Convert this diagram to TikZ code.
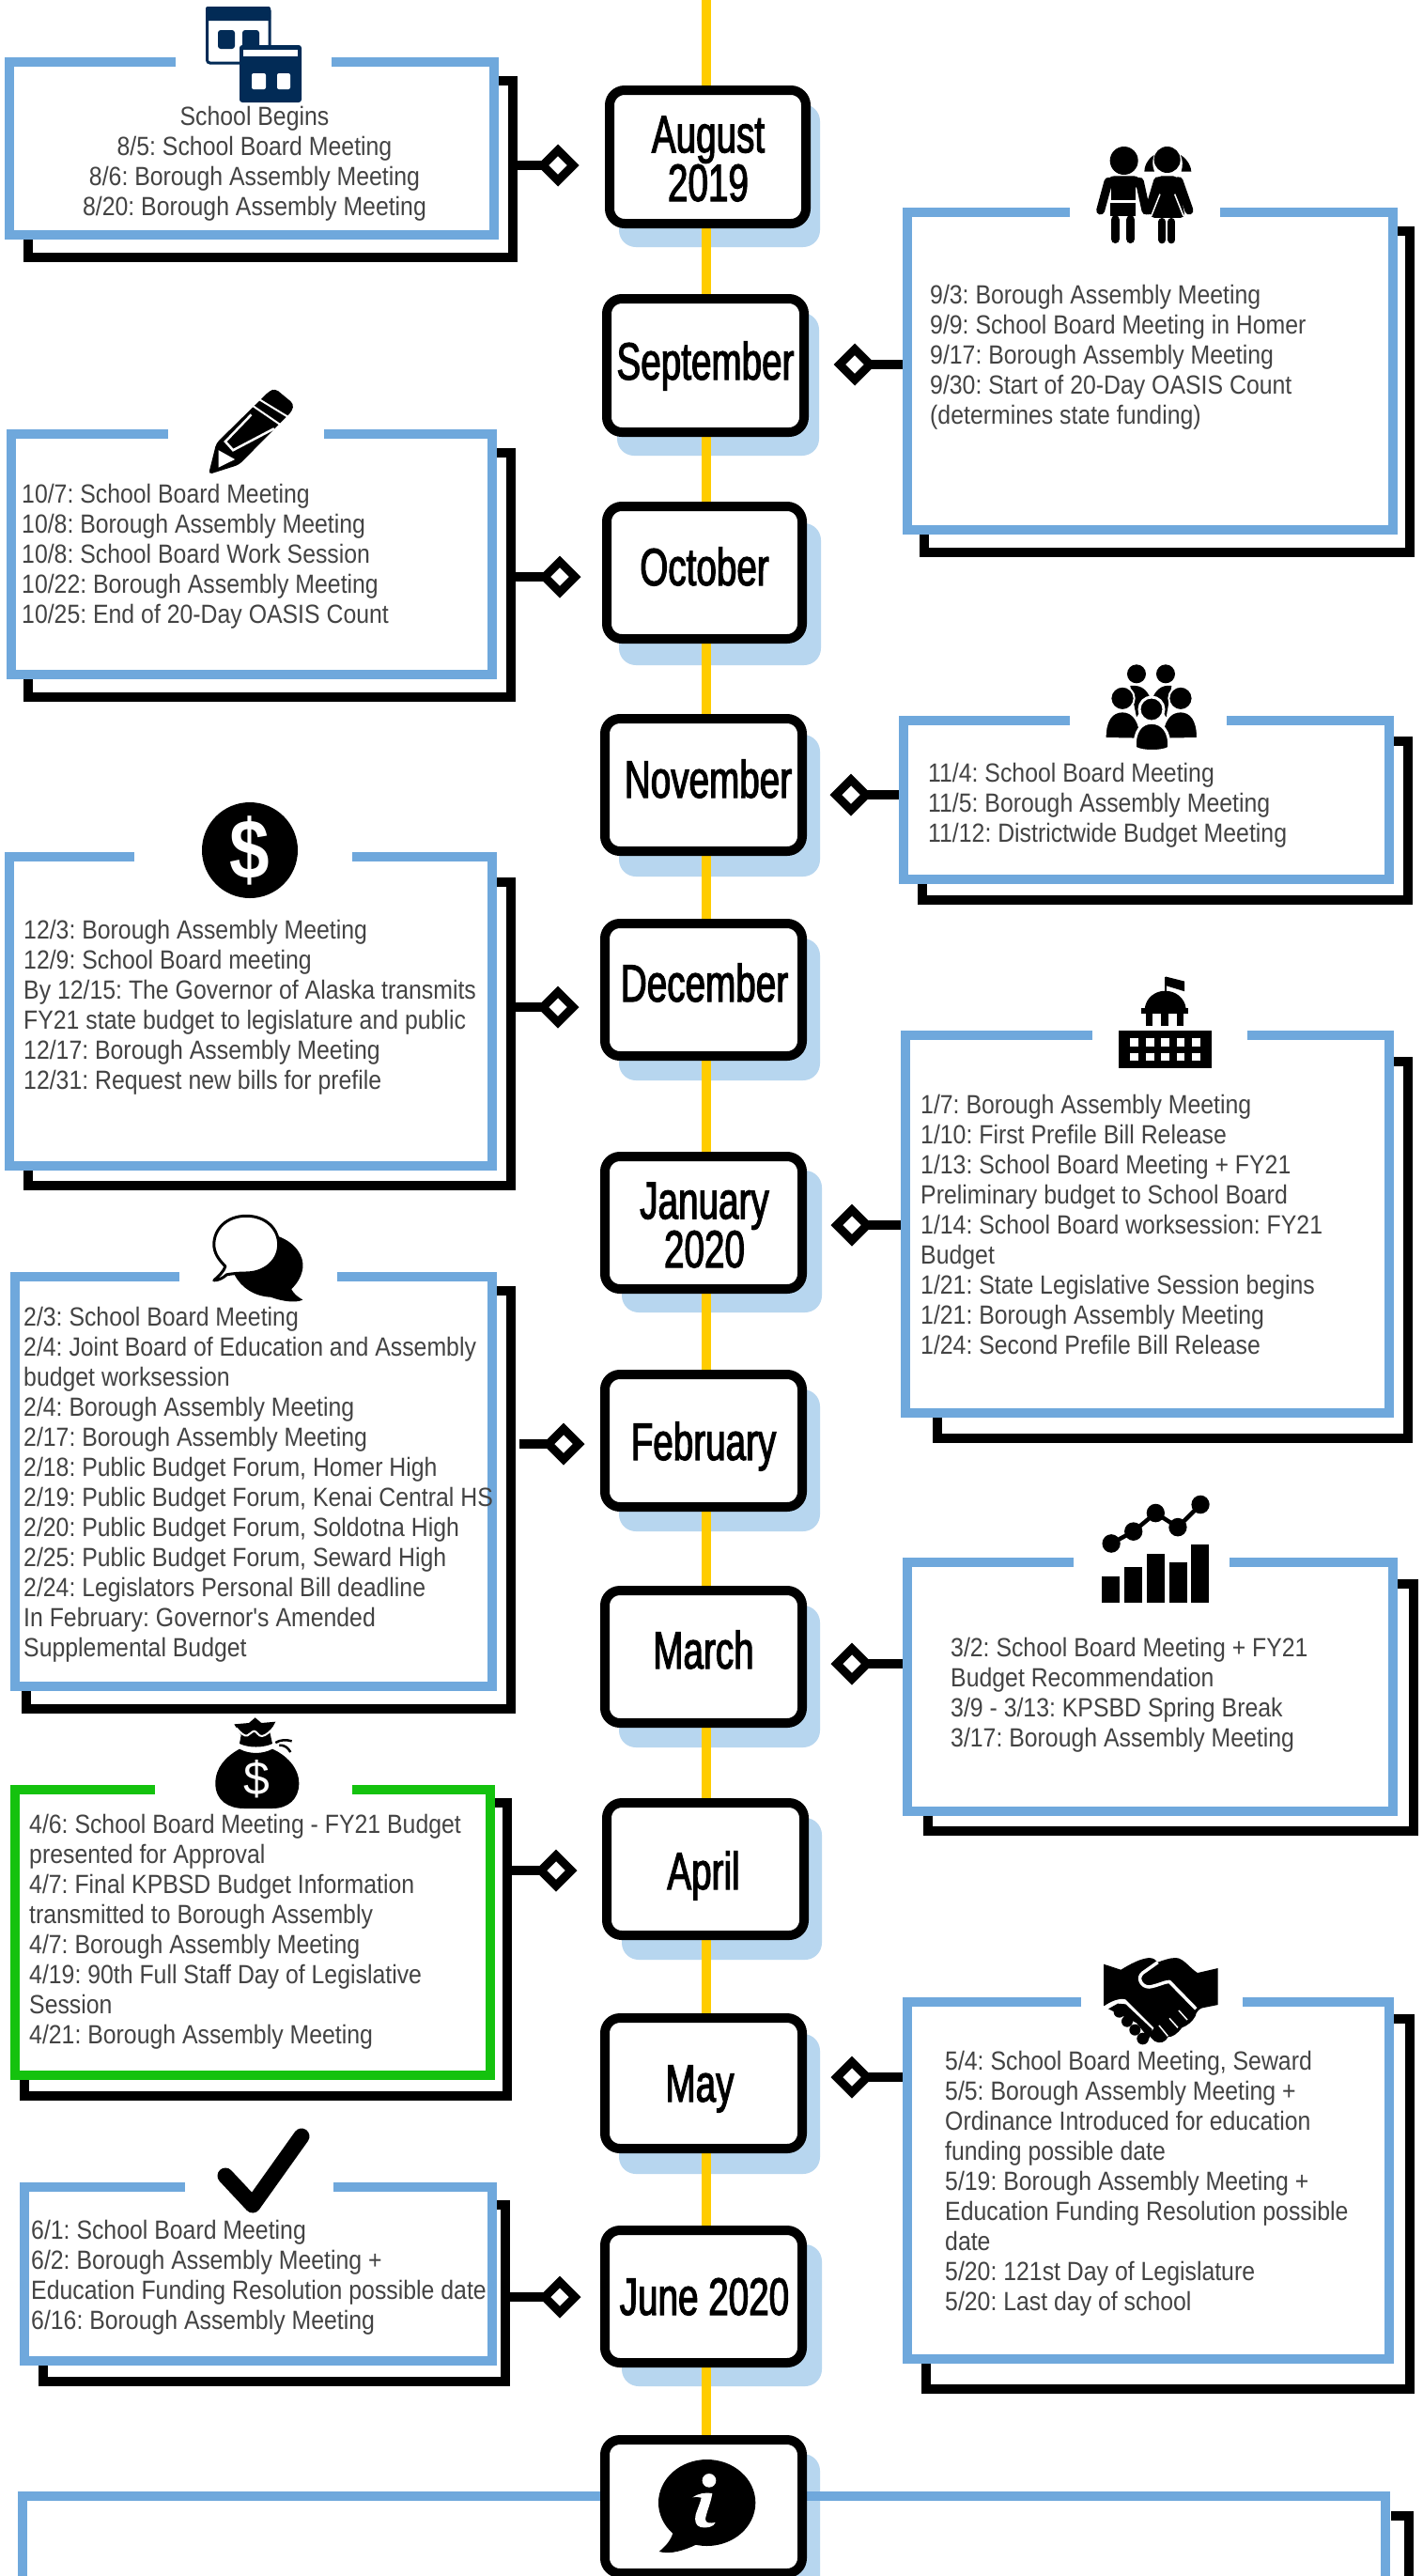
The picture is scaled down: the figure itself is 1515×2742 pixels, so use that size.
\documentclass[tikz,border=0pt]{standalone}
\usepackage{fontspec}
\usetikzlibrary{shapes.geometric,calc}
\newfontfamily\bodyfont{Liberation Sans}[FakeStretch=0.887]
\newfontfamily\plainfont{Liberation Sans}
\newfontfamily\monthfont{Liberation Sans}[FakeStretch=0.69,FakeBold=2]
\newfontfamily\dollarfont{Liberation Sans}[FakeStretch=0.85,UprightFont=* Bold]
\definecolor{panelblue}{HTML}{6FA8DC}
\definecolor{panelgreen}{HTML}{14C20E}
\definecolor{shadowblue}{HTML}{B7D6EF}
\definecolor{tlyellow}{HTML}{FFCC00}
\definecolor{navy}{HTML}{022B56}
\definecolor{bodygray}{HTML}{434343}
\pgfdeclarelayer{paper}
\pgfdeclarelayer{bg}
\pgfdeclarelayer{mid}
\pgfsetlayers{paper,bg,mid,main}
\tikzset{
  monthnode/.style={draw=black,fill=white,line width=10pt,rounded corners=16pt,inner sep=0pt,rectangle},
  monthshade/.style={fill=shadowblue,rounded corners=18pt,inner sep=0pt,outer sep=0pt,rectangle},
  panelfill/.style={fill=white,inner sep=0pt,outer sep=0pt,rectangle},
  panelopen/.style={inner sep=0pt,outer sep=0pt,rectangle},
  panelline/.style={line width=10pt,line cap=butt,line join=miter},
  blackframe/.style={draw=black,line width=10pt,inner sep=0pt,rectangle,line join=miter},
  conn/.style={draw=black,line width=10pt},
  dia/.style={diamond,draw=black,fill=white,line width=9pt,inner sep=0pt,minimum width=36pt,minimum height=36pt,line join=miter},
  timeline/.style={draw=tlyellow,line width=10pt},
  paneltext/.style={align=left,anchor=base west,inner sep=0pt,text=bodygray,font=\frenchspacing\bodyfont\fontsize{28}{32}\selectfont},
  monthtext/.style={align=center,anchor=base,inner sep=0pt,text=black,font=\monthfont\fontsize{56}{50}\selectfont},
}
\newcommand\monthbox[8]{%
  \begin{pgfonlayer}{bg}
    \node[monthshade,minimum width={(#7-#6)*1pt},minimum height={(#5-#3)*1pt}] (#1s) at ({(#6+#7)/2},{(#3+#5)/2+(#8-#5)}) {};
  \end{pgfonlayer}
  \node[monthnode,minimum width={(#4-#2-10)*1pt},minimum height={(#5-#3-10)*1pt}] (#1) at ({(#2+#4)/2},{(#3+#5)/2}) {};
}
\newcommand\shadowframe[5]{%
  \node[blackframe,minimum width={(#4-#2-10)*1pt},minimum height={(#5-#3-10)*1pt}] (#1) at ({(#2+#4)/2},{(#3+#5)/2}) {};
}
\newcommand\panelframe[8]{%
  \node[panelfill,minimum width={(#4-#2)*1pt},minimum height={(#5-#3)*1pt}] (#1) at ({(#2+#4)/2},{(#3+#5)/2}) {};
  \draw[panelline,draw=#8] (#7,{#3+5}) -- ({#4-5},{#3+5}) -- ({#4-5},{#5-5}) -- ({#2+5},{#5-5}) -- ({#2+5},{#3+5}) -- (#6,{#3+5});
}
\newcommand\conL[2]{\begin{pgfonlayer}{mid}\draw[conn] (#1.center) -- (#1.center -| #2.east);\end{pgfonlayer}}
\newcommand\conR[2]{\begin{pgfonlayer}{mid}\draw[conn] (#1.center) -- (#1.center -| #2.west);\end{pgfonlayer}}
\begin{document}
\begin{tikzpicture}[x=1pt,y=-1pt]
\useasboundingbox (0,0) rectangle (1515,2742);
\begin{pgfonlayer}{paper}\fill[white] (0,0) rectangle (1515,2742);\end{pgfonlayer}

% month boxes: name l t r b shadowl shadowr shadowb
\monthbox{aug}{644}{91}{863}{243}{659}{873}{263}
\monthbox{sep}{641}{313}{861}{465}{657}{872}{485}
\monthbox{oct}{641}{534}{859}{685}{659}{874}{708}
\monthbox{nov}{639}{760}{859}{911}{659}{873}{933}
\monthbox{dec}{639}{978}{859}{1129}{659}{873}{1150}
\monthbox{jan}{639}{1226}{859}{1377}{662}{875}{1397}
\monthbox{feb}{639}{1458}{859}{1609}{659}{873}{1630}
\monthbox{mar}{639}{1688}{859}{1839}{659}{873}{1860}
\monthbox{apr}{641}{1914}{861}{2065}{662}{875}{2086}
\monthbox{may}{639}{2143}{859}{2292}{659}{873}{2314}
\monthbox{jun}{639}{2369}{859}{2520}{662}{875}{2540}

% timeline
\coordinate (tltop) at (752,0);

% month labels
\node[monthtext] (augL) at (754,214) {August\\2019};
\node[monthtext] (sepL) at (751,404) {September};
\node[monthtext] (octL) at (750,623) {October};
\node[monthtext] (novL) at (754,849) {November};
\node[monthtext] (decL) at (750,1066) {December};
\node[monthtext] (janL) at (750,1349) {January\\2020};
\node[monthtext] (febL) at (749,1554) {February};
\node[monthtext] (marL) at (749,1776) {March};
\node[monthtext] (aprL) at (749,2011) {April};
\node[monthtext] (mayL) at (745,2237) {May};
\node[monthtext] (junL) at (750,2464) {June 2020};

% August panel
\shadowframe{augS}{25}{81}{551}{279}
\panelframe{augP}{5}{61}{531}{255}{187}{353}{panelblue}
\node[paneltext,align=center,anchor=base] (augT) at (271,229) {School Begins\\8/5: School Board Meeting\\8/6: Borough Assembly Meeting\\8/20: Borough Assembly Meeting};
\node[dia] (augD) at (594,176) {};
\conL{augD}{augS}

% September panel
\shadowframe{sepS}{979}{241}{1506}{593}
\panelframe{sepP}{961}{221}{1488}{569}{1139}{1299}{panelblue}
\node[paneltext] (sepT) at (990,451) {9/3: Borough Assembly Meeting\\9/9: School Board Meeting in Homer\\9/17: Borough Assembly Meeting\\9/30: Start of 20-Day OASIS Count\\(determines state funding)};
\node[dia] (sepD) at (910,388) {};
\conR{sepD}{sepP}

% October panel
\shadowframe{octS}{25}{477}{549}{747}
\panelframe{octP}{7}{457}{529}{723}{179}{345}{panelblue}
\node[paneltext] (octT) at (23,663) {10/7: School Board Meeting\\10/8: Borough Assembly Meeting\\10/8: School Board Work Session\\10/22: Borough Assembly Meeting\\10/25: End of 20-Day OASIS Count};
\node[dia] (octD) at (596,614) {};
\conL{octD}{octS}

% November panel
\shadowframe{novS}{977}{784}{1504}{963}
\panelframe{novP}{957}{762}{1484}{941}{1139}{1306}{panelblue}
\node[paneltext] (novT) at (988,896) {11/4: School Board Meeting\\11/5: Borough Assembly Meeting\\11/12: Districtwide Budget Meeting};
\node[dia] (novD) at (906,846) {};
\conR{novD}{novP}

% December panel
\shadowframe{decS}{25}{934}{549}{1267}
\panelframe{decP}{5}{907}{529}{1246}{143}{375}{panelblue}
\node[paneltext] (decT) at (25,1159) {12/3: Borough Assembly Meeting\\12/9: School Board meeting\\By 12/15: The Governor of Alaska transmits\\FY21 state budget to legislature and public\\12/17: Borough Assembly Meeting\\12/31: Request new bills for prefile};
\node[dia] (decD) at (594,1072) {};
\conL{decD}{decS}

% January panel
\shadowframe{janS}{993}{1125}{1504}{1536}
\panelframe{janP}{959}{1097}{1484}{1509}{1163}{1328}{panelblue}
\node[paneltext] (janT) at (980,1441) {1/7: Borough Assembly Meeting\\1/10: First Prefile Bill Release\\1/13: School Board Meeting + FY21\\Preliminary budget to School Board\\1/14: School Board worksession: FY21\\Budget\\1/21: State Legislative Session begins\\1/21: Borough Assembly Meeting\\1/24: Second Prefile Bill Release};
\node[dia] (janD) at (907,1304) {};
\conR{janD}{janP}

% February panel
\shadowframe{febS}{23}{1369}{549}{1824}
\panelframe{febP}{11}{1354}{529}{1800}{191}{359}{panelblue}
\node[paneltext] (febT) at (25,1763) {2/3: School Board Meeting\\2/4: Joint Board of Education and Assembly\\budget worksession\\2/4: Borough Assembly Meeting\\2/17: Borough Assembly Meeting\\2/18: Public Budget Forum, Homer High\\2/19: Public Budget Forum, Kenai Central HS\\2/20: Public Budget Forum, Soldotna High\\2/25: Public Budget Forum, Seward High\\2/24: Legislators Personal Bill deadline\\In February: Governor's Amended\\Supplemental Budget};
\node[dia] (febD) at (600,1537) {};
\begin{pgfonlayer}{mid}\draw[conn] (febD.center) -- ([xshift=4pt]febD.center -| febS.east);\end{pgfonlayer}

% March panel
\shadowframe{marS}{983}{1681}{1510}{1954}
\panelframe{marP}{961}{1658}{1488}{1933}{1143}{1309}{panelblue}
\node[paneltext] (marT) at (1012,1859) {3/2: School Board Meeting + FY21\\Budget Recommendation\\3/9 - 3/13: KPSBD Spring Break\\3/17: Borough Assembly Meeting};
\node[dia] (marD) at (907,1771) {};
\conR{marD}{marP}

% April panel
\shadowframe{aprS}{21}{1914}{545}{2236}
\panelframe{aprP}{11}{1900}{527}{2214}{165}{375}{panelgreen}
\node[paneltext] (aprT) at (31,2175) {4/6: School Board Meeting - FY21 Budget\\presented for Approval\\4/7: Final KPBSD Budget Information\\transmitted to Borough Assembly\\4/7: Borough Assembly Meeting\\4/19: 90th Full Staff Day of Legislative\\Session\\4/21: Borough Assembly Meeting};
\node[dia] (aprD) at (592,1991) {};
\conL{aprD}{aprS}

% May panel
\shadowframe{mayS}{981}{2144}{1506}{2548}
\panelframe{mayP}{961}{2126}{1484}{2516}{1151}{1323}{panelblue}
\node[paneltext] (mayT) at (1006,2459) {5/4: School Board Meeting, Seward\\5/5: Borough Assembly Meeting +\\Ordinance Introduced for education\\funding possible date\\5/19: Borough Assembly Meeting +\\Education Funding Resolution possible\\date\\5/20: 121st Day of Legislature\\5/20: Last day of school};
\node[dia] (mayD) at (907,2211) {};
\conR{mayD}{mayP}

% June panel
\shadowframe{junS}{41}{2342}{543}{2540}
\panelframe{junP}{21}{2323}{529}{2518}{197}{355}{panelblue}
\node[paneltext] (junT) at (33,2479) {6/1: School Board Meeting\\6/2: Borough Assembly Meeting +\\Education Funding Resolution possible date\\6/16: Borough Assembly Meeting};
\node[dia] (junD) at (596,2445) {};
\conL{junD}{junS}

% Info panel (runs past the bottom of the page)
\coordinate (infoSa) at (1481,2678);
\coordinate (infoSb) at (1500,2678);
\coordinate (infoSc) at (1500,2760);
\draw[panelline,draw=black] (infoSa) -- (infoSb) -- (infoSc);
\node[panelopen,minimum width=1461pt,minimum height=148pt] (infoP) at (749.5,2726) {};
\draw[panelline,draw=panelblue] (24,2780) -- (24,2657) -- (1475,2657) -- (1475,2780);
\monthbox{info}{639}{2592}{859}{2744}{662}{873}{2764}
\begin{pgfonlayer}{mid}\draw[timeline] (tltop) -- (tltop |- info.north);\end{pgfonlayer}

% --- icons ---
% calendars
\draw[navy,line width=3pt,rounded corners=3pt,fill=white] (220.5,8.5) rectangle (287,67);
\fill[navy,rounded corners=2pt] (219,7) rectangle (288,22);
\fill[navy,rounded corners=3pt] (232,32) rectangle (250,52);
\fill[navy,rounded corners=3pt] (258,32) rectangle (276,52);
\fill[navy,rounded corners=3pt] (255,48) rectangle (321,109);
\fill[white] (259,52.5) rectangle (317,60);
\fill[white,rounded corners=2pt] (268,78) rectangle (283,95);
\fill[white,rounded corners=2pt] (295,78) rectangle (309,95);

% children
\begin{scope}[shift={(1160,150)},x=.3333pt,y=-.3333pt]
  \fill (110,63) circle[radius=45];
  \fill[rounded corners=8pt] (55,112) rectangle (165,150);
  \fill (68,130) rectangle (148,190);
  \fill (66,198) rectangle (148,240);
  \draw[line width=9pt,line cap=round] (60,130) -- (35,222);
  \draw[line width=9pt,line cap=round] (160,130) -- (180,222);
  \draw[line width=9.5pt,line cap=round] (82,252) -- (82,313);
  \draw[line width=9.5pt,line cap=round] (131,252) -- (131,313);
  \fill (206,45) .. controls (182,60) and (175,85) .. (175,98) -- (207,98) .. controls (200,80) and (200,62) .. (206,45) -- cycle;
  \fill (291,45) .. controls (315,60) and (325,85) .. (325,98) -- (293,98) .. controls (298,80) and (298,62) .. (291,45) -- cycle;
  \fill (248,60) circle[radius=42];
  \draw[line width=9pt,line cap=round] (218,128) -- (190,222);
  \draw[line width=9pt,line cap=round] (285,128) -- (318,222);
  \fill[rounded corners=5pt] (215,112) -- (282,112) -- (305,246) -- (193,246) -- cycle;
  \draw[white,line width=1.5pt] (225,170) -- (197,240);
  \draw[white,line width=1.5pt] (272,170) -- (300,240);
  \draw[line width=8pt,line cap=round] (232,258) -- (232,316);
  \draw[line width=8pt,line cap=round] (262,258) -- (262,316);
\end{scope}

% pencil
\begin{scope}[shift={(0,400)},x=.4847pt,y=-.574pt]
  \fill[rounded corners=4pt] (458,183) -- (475,125) -- (592,28) -- (605,24) -- (645,52) -- (642,65) -- (525,165) -- cycle;
  \draw[white,line width=2pt] (566,42) -- (632,76);
  \draw[white,line width=2pt] (554,55) -- (618,92);
  \draw[white,line width=2.5pt] (552,72) -- (495,122) -- (512,138) -- (602,98);
  \fill[white] (480,138) -- (516,155) -- (480,170) -- cycle;
\end{scope}

% people
\begin{scope}[shift={(1160,700)},x=.3333pt,y=-.3333pt]
  \fill (150,52) circle[radius=30];
  \fill (243,52) circle[radius=30];
  \fill (130,90) .. controls (170,85) and (185,110) .. (192,125) -- (150,190) -- cycle;
  \fill (262,90) .. controls (225,85) and (210,110) .. (203,125) -- (245,190) -- cycle;
  \fill[draw=white,line width=2pt] (105,130) circle[radius=38];
  \fill[draw=white,line width=2pt] (291,130) circle[radius=38];
  \fill[draw=white,line width=2pt] (50,255) .. controls (50,200) and (70,172) .. (105,172) .. controls (140,172) and (160,200) .. (165,260) -- (50,258) -- cycle;
  \fill[draw=white,line width=2pt] (345,255) .. controls (345,200) and (325,172) .. (291,172) .. controls (255,172) and (235,200) .. (230,260) -- (345,258) -- cycle;
  \fill[draw=white,line width=3pt] (198,165) circle[radius=39];
  \fill[draw=white,line width=3pt] (145,288) .. controls (142,235) and (165,208) .. (198,208) .. controls (232,208) and (257,235) .. (254,288) .. controls (235,302) and (165,302) .. (145,288) -- cycle;
\end{scope}

% dollar disc
\fill (266,905) circle[radius=51];
\node[text=white,inner sep=0pt,font=\dollarfont\fontsize{90}{90}\selectfont] (dollar) at (266,905) {\$};

% capitol
\begin{scope}[shift={(760,700)},x=.4819pt,y=-.5612pt]
  \fill (895,707) rectangle (1099,779);
  \foreach \wx in {920,955,988,1022,1057} {
    \fill[white] (\wx,722) rectangle +(18,15);
    \fill[white] (\wx,750) rectangle +(18,15);
  }
  \fill (955,675) rectangle (970,698);
  \fill (988,675) rectangle (1005,698);
  \fill (1022,675) rectangle (1038,698);
  \fill (945,665) rectangle (1048,675);
  \fill (952,665) .. controls (955,645) and (975,632) .. (997,632) .. controls (1020,632) and (1040,645) .. (1043,665) -- cycle;
  \draw[line width=1.5pt] (998,605) -- (998,632);
  \fill (998,605) -- (1040,614) -- (1040,633) -- (998,622) -- cycle;
\end{scope}

% speech bubbles
\begin{scope}[shift={(0,1280)},x=.4847pt,y=-.3571pt]
  \fill (610,100) .. controls (650,120) and (668,160) .. (665,195) .. controls (662,225) and (650,245) .. (640,258) .. controls (645,272) and (655,282) .. (665,290) .. controls (650,300) and (620,295) .. (595,282) .. controls (560,280) and (530,255) .. (515,215) -- cycle;
  \draw[fill=white,line width=3pt,line join=round] (541,40) .. controls (585,40) and (612,80) .. (612,125) .. controls (612,175) and (580,210) .. (540,210) .. controls (525,210) and (510,212) .. (498,215) .. controls (490,225) and (480,232) .. (470,232) .. controls (480,220) and (492,205) .. (495,190) .. controls (480,170) and (470,150) .. (470,125) .. controls (470,80) and (497,40) .. (541,40) -- cycle;
\end{scope}

% money bag
\begin{scope}[shift={(210,1820)},x=.3333pt,y=-.3333pt]
  \fill (118,46) -- (165,42) -- (185,25) -- (205,42) -- (250,38) -- (232,72) -- (240,108) .. controls (210,122) and (165,122) .. (135,108) -- (140,80) -- cycle;
  \draw[white,line width=2pt] (125,58) .. controls (140,75) and (150,85) .. (160,82) .. controls (170,78) and (175,68) .. (182,68) .. controls (190,68) and (195,85) .. (207,84) .. controls (220,82) and (235,68) .. (248,52);
  \fill (135,125) .. controls (90,150) and (58,185) .. (58,235) .. controls (58,290) and (100,315) .. (150,315) -- (240,315) .. controls (290,315) and (325,285) .. (325,235) .. controls (325,185) and (285,145) .. (240,125) .. controls (210,142) and (165,142) .. (135,125) -- cycle;
  \draw[line width=2.5pt] (250,105) .. controls (265,95) and (285,95) .. (302,100);
  \draw[line width=2.5pt] (262,113) .. controls (280,112) and (290,122) .. (298,135);
  \node[text=white,inner sep=0pt,font=\plainfont\fontsize{50}{50}\selectfont] (bagD) at (190,222) {\$};
\end{scope}

% chart
\begin{scope}[shift={(760,1560)},x=.4819pt,y=-.7541pt]
  \foreach \bx/\by in {858/157,907/143,956/124,1006/136,1055/112} {
    \fill (\bx,\by) rectangle +(39,{193-\by});
  }
  \draw[line width=4.5pt] (878,110) -- (927,93) -- (976,67) -- (1025,87) -- (1075,55);
  \foreach \px/\py in {878/110,927/93,976/67,1025/87,1075/55} {
    \fill (\px,\py) ellipse[x radius=20,y radius=13];
  }
\end{scope}

% handshake
\begin{scope}[shift={(1160,2070)},x=.3333pt,y=-.3333pt]
  \fill (45,62) -- (100,80) .. controls (130,62) and (160,45) .. (190,42) .. controls (205,42) and (212,50) .. (218,56) .. controls (235,50) and (255,42) .. (275,42) .. controls (300,42) and (320,75) .. (345,90) -- (410,75) -- (410,192) -- (360,202) .. controls (350,205) and (340,215) .. (338,228) .. controls (330,245) and (310,260) .. (295,265) .. controls (280,285) and (265,295) .. (250,295) .. controls (245,310) and (225,318) .. (205,305) -- (150,250) -- (45,195) -- cycle;
  \draw[white,line width=3.5pt,line join=round] (218,56) -- (170,90) .. controls (150,105) and (165,135) .. (190,135) .. controls (215,132) and (240,118) .. (255,118) -- (340,205);
  \fill[white] (45,197) .. controls (70,180) and (95,170) .. (115,175) -- (205,265) -- (185,320) -- (140,320) -- (60,235) -- cycle;
  \fill (60,205) -- (90,188) -- (115,190) -- (200,270) -- (190,300) -- (150,250) -- cycle;
  \foreach \kx/\ky/\kr in {95/215/18,120/245/18,145/272/18,170/300/19} {
    \fill (\kx,\ky) circle[radius=\kr];
  }
  \fill (205,270) -- (248,290) .. controls (245,312) and (225,318) .. (208,308) -- (185,285) -- cycle;
  \draw[white,line width=1.5pt] (285,210) -- (312,240);
  \draw[white,line width=1.5pt] (255,235) -- (282,265);
  \draw[white,line width=1.5pt] (222,258) -- (250,292);
\end{scope}

% check mark
\draw[line width=17pt,line cap=round,line join=round] (240,2316) -- (269,2347) -- (321,2274);

% info bubble
\begin{scope}[shift={(620,2560)},x=.3333pt,y=-.3333pt]
  \fill (398,312) ellipse[x radius=155,y radius=138];
  \fill (290,405) .. controls (285,430) and (265,452) .. (245,468) .. controls (280,478) and (325,465) .. (365,445) -- cycle;
  \fill[white] (405,241) circle[radius=22];
  \fill[white] (352,295) .. controls (370,282) and (395,278) .. (415,282) .. controls (410,315) and (395,345) .. (393,365) .. controls (393,378) and (410,378) .. (425,375) .. controls (420,390) and (395,394) .. (378,390) .. controls (362,385) and (358,372) .. (362,350) .. controls (368,330) and (378,310) .. (380,296) .. controls (370,292) and (360,293) .. (352,295) -- cycle;
\end{scope}
\end{tikzpicture}
\end{document}
